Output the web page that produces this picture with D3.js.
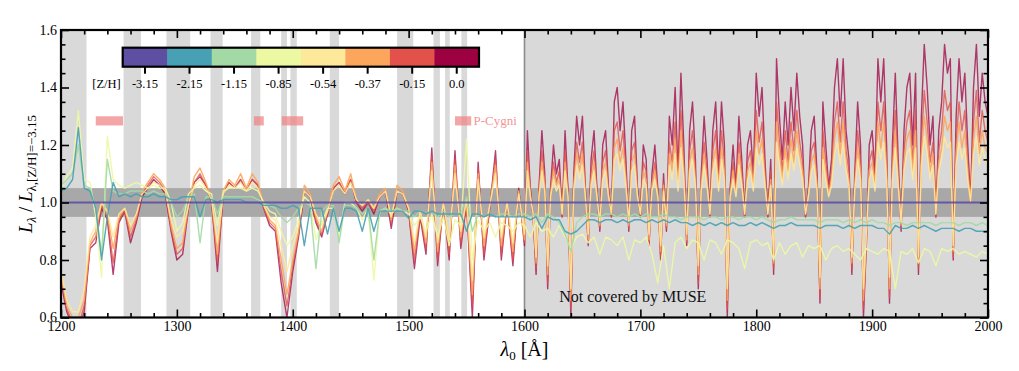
<!DOCTYPE html>
<html>
<head>
<meta charset="utf-8">
<script src="https://cdn.jsdelivr.net/npm/d3@7"></script>
<style>
  body{margin:0;background:#fff;}
  text{font-family:"Liberation Serif","DejaVu Serif",serif;}
</style>
</head>
<body>
<div id="chart"></div>
<script>
'use strict';

// wavelength sampling (Angstrom): 5 A everywhere for the metal poor models,
// 2.5 A beyond 1600 A for the metal rich ones (denser line forest there)
const lambdaPoor = d3.range(1200, 2001, 5);
const lambdaRich = d3.range(1200, 1600, 5).concat(d3.range(1600, 2000.01, 2.5));

// [Z/H] categories and their colours (Spectral, metal poor -> rich)
const zhLabels = ["-3.15","-2.15","-1.15","-0.85","-0.54","-0.37","-0.15","0.0"];
const zhColors = ["#5e4fa2","#47a0b3","#a2d9a4","#edf8a3","#fee899","#fca55d","#e2514a","#9e0142"];

// ratio spectra L / L([Z/H]=-3.15)
const zh000 = [
  0.72,0.62,0.57,0.55,0.62,0.84,0.86,0.98,0.94,0.75,
  0.93,0.97,0.86,0.93,1.02,1.05,1.08,1.06,1.03,0.90,
  0.80,0.82,0.98,1.07,1.09,1.06,1.00,0.76,1.03,1.07,
  1.05,1.08,1.04,1.08,1.06,0.98,0.92,0.90,0.72,0.60,
  0.76,0.88,1.04,1.02,0.93,0.88,0.96,1.05,1.07,1.03,
  1.08,1.00,0.97,1.00,0.96,1.02,1.04,0.91,1.04,1.03,
  0.97,0.77,0.95,0.82,1.19,0.78,1.00,0.80,1.18,0.84,
  1.00,0.60,1.14,0.80,0.98,1.18,0.80,1.00,0.78,1.05,
  0.85,1.25,1.05,0.95,0.75,1.05,1.25,1.10,0.70,1.05,1.20,1.10,1.15,0.95,1.25,1.05,0.60,1.10,1.30,1.20,
  1.30,1.05,0.85,1.15,1.25,1.05,0.90,1.20,1.25,1.05,0.95,1.35,1.40,1.25,1.35,1.15,0.90,1.25,1.30,1.05,
  0.95,1.20,1.15,0.85,1.10,1.20,1.05,0.80,1.10,0.90,1.30,1.20,1.40,1.10,1.45,1.20,0.85,1.25,1.35,1.15,
  0.70,1.10,1.30,1.15,0.95,1.25,1.35,1.10,1.35,1.20,0.60,1.05,1.20,1.05,1.30,1.15,0.95,1.20,1.25,1.10,
  1.45,1.30,1.40,1.15,0.95,1.15,0.75,1.50,1.30,1.15,1.35,1.20,1.40,1.25,1.45,1.30,1.20,0.95,1.05,1.25,
  1.30,1.10,0.65,1.35,1.20,1.05,1.15,1.40,1.50,1.30,1.50,1.25,1.15,0.75,1.10,1.35,1.20,0.60,0.85,1.20,
  1.25,1.10,1.50,1.35,1.50,1.20,0.65,1.20,1.45,1.15,0.90,1.25,1.40,1.45,1.20,1.45,0.75,1.30,1.55,1.40,
  1.20,1.30,0.95,1.25,1.35,1.55,1.45,1.50,0.80,1.30,1.50,1.35,1.45,1.20,1.00,1.40,1.55,1.30,1.45,1.35,
  1.30
];
const zh015 = [
  0.74,0.63,0.58,0.57,0.64,0.85,0.88,0.99,0.95,0.79,
  0.94,0.97,0.88,0.94,1.03,1.06,1.09,1.07,1.04,0.91,
  0.82,0.84,0.98,1.07,1.10,1.06,1.00,0.79,1.03,1.07,
  1.05,1.08,1.04,1.08,1.06,0.98,0.93,0.91,0.76,0.64,
  0.78,0.89,1.04,1.02,0.94,0.89,0.96,1.05,1.07,1.03,
  1.08,1.00,0.98,1.00,0.97,1.02,1.04,0.93,1.04,1.03,
  0.97,0.80,0.96,0.84,1.16,0.80,1.00,0.82,1.15,0.86,
  1.00,0.64,1.12,0.82,0.98,1.15,0.82,1.00,0.80,1.04,
  0.86,1.18,1.04,0.95,0.77,1.04,1.18,1.07,0.72,1.04,1.14,1.07,1.11,0.95,1.18,1.04,0.63,1.07,1.21,1.14,
  1.21,1.04,0.86,1.11,1.18,1.04,0.91,1.14,1.18,1.04,0.95,1.25,1.28,1.18,1.25,1.11,0.91,1.18,1.21,1.04,
  0.95,1.14,1.11,0.86,1.07,1.14,1.04,0.81,1.07,0.91,1.21,1.14,1.28,1.07,1.32,1.14,0.86,1.18,1.25,1.11,
  0.72,1.07,1.21,1.11,0.95,1.18,1.25,1.07,1.25,1.14,0.63,1.04,1.14,1.04,1.21,1.11,0.95,1.14,1.18,1.07,
  1.32,1.21,1.28,1.11,0.95,1.11,0.77,1.35,1.21,1.11,1.25,1.14,1.28,1.18,1.32,1.21,1.14,0.95,1.04,1.18,
  1.21,1.07,0.67,1.25,1.14,1.04,1.11,1.28,1.35,1.21,1.35,1.18,1.11,0.77,1.07,1.25,1.14,0.63,0.86,1.14,
  1.18,1.07,1.35,1.25,1.35,1.14,0.67,1.14,1.32,1.11,0.91,1.18,1.28,1.32,1.14,1.32,0.77,1.21,1.39,1.28,
  1.14,1.21,0.95,1.18,1.25,1.39,1.32,1.35,0.81,1.21,1.35,1.25,1.32,1.14,1.00,1.28,1.39,1.21,1.32,1.25,
  1.21
];
const zh037 = [
  0.75,0.64,0.60,0.60,0.66,0.86,0.90,1.00,0.96,0.84,
  0.95,0.98,0.90,0.95,1.04,1.07,1.10,1.08,1.05,0.92,
  0.84,0.86,0.99,1.09,1.12,1.07,1.01,0.82,1.04,1.08,
  1.06,1.10,1.05,1.10,1.07,0.99,0.94,0.92,0.80,0.68,
  0.80,0.90,1.06,1.03,0.95,0.90,0.97,1.06,1.09,1.04,
  1.10,1.01,0.99,1.01,0.98,1.03,1.05,0.94,1.06,1.04,
  0.98,0.83,0.97,0.86,1.14,0.83,1.00,0.85,1.13,0.88,
  1.01,0.68,1.10,0.85,0.99,1.13,0.85,1.00,0.83,1.04,
  0.87,1.14,1.03,0.96,0.79,1.03,1.14,1.06,0.75,1.03,1.11,1.06,1.08,0.96,1.14,1.03,0.66,1.06,1.17,1.11,
  1.17,1.03,0.87,1.08,1.14,1.03,0.92,1.11,1.14,1.03,0.96,1.19,1.22,1.14,1.19,1.08,0.92,1.14,1.17,1.03,
  0.96,1.11,1.08,0.87,1.06,1.11,1.03,0.83,1.06,0.92,1.17,1.11,1.22,1.06,1.25,1.11,0.87,1.14,1.19,1.08,
  0.75,1.06,1.17,1.08,0.96,1.14,1.19,1.06,1.19,1.11,0.66,1.03,1.11,1.03,1.17,1.08,0.96,1.11,1.14,1.06,
  1.25,1.17,1.22,1.08,0.96,1.08,0.79,1.28,1.17,1.08,1.19,1.11,1.22,1.14,1.25,1.17,1.11,0.96,1.03,1.14,
  1.17,1.06,0.70,1.19,1.11,1.03,1.08,1.22,1.28,1.17,1.28,1.14,1.08,0.79,1.06,1.19,1.11,0.66,0.87,1.11,
  1.14,1.06,1.28,1.19,1.28,1.11,0.70,1.11,1.25,1.08,0.92,1.14,1.22,1.25,1.11,1.25,0.79,1.17,1.30,1.22,
  1.11,1.17,0.96,1.14,1.19,1.30,1.25,1.28,0.83,1.17,1.28,1.19,1.25,1.11,1.00,1.22,1.30,1.17,1.25,1.19,
  1.17
];
const zh054 = [
  0.76,0.66,0.62,0.62,0.70,0.88,0.92,1.00,0.97,0.88,
  0.96,0.98,0.92,0.96,1.03,1.05,1.07,1.06,1.04,0.94,
  0.88,0.90,0.99,1.06,1.08,1.05,1.01,0.86,1.03,1.06,
  1.05,1.07,1.04,1.07,1.05,0.99,0.95,0.94,0.85,0.76,
  0.85,0.92,1.04,1.02,0.96,0.92,0.97,1.04,1.06,1.03,
  1.07,1.01,0.99,1.01,0.98,1.02,1.04,0.95,1.04,1.03,
  0.98,0.86,0.97,0.88,1.11,0.86,1.00,0.87,1.10,0.90,
  1.01,0.73,1.08,0.88,0.99,1.10,0.88,1.00,0.86,1.03,
  0.89,1.11,1.02,0.96,0.81,1.02,1.11,1.04,0.78,1.02,1.08,1.04,1.06,0.96,1.11,1.02,0.70,1.04,1.13,1.08,
  1.13,1.02,0.89,1.06,1.11,1.02,0.93,1.08,1.11,1.02,0.96,1.15,1.17,1.11,1.15,1.06,0.93,1.11,1.13,1.02,
  0.96,1.08,1.06,0.89,1.04,1.08,1.02,0.85,1.04,0.93,1.13,1.08,1.17,1.04,1.19,1.08,0.89,1.11,1.15,1.06,
  0.78,1.04,1.13,1.06,0.96,1.11,1.15,1.04,1.15,1.08,0.70,1.02,1.08,1.02,1.13,1.06,0.96,1.08,1.11,1.04,
  1.19,1.13,1.17,1.06,0.96,1.06,0.81,1.21,1.13,1.06,1.15,1.08,1.17,1.11,1.19,1.13,1.08,0.96,1.02,1.11,
  1.13,1.04,0.74,1.15,1.08,1.02,1.06,1.17,1.21,1.13,1.21,1.11,1.06,0.81,1.04,1.15,1.08,0.70,0.89,1.08,
  1.11,1.04,1.21,1.15,1.21,1.08,0.74,1.08,1.19,1.06,0.93,1.11,1.17,1.19,1.08,1.19,0.81,1.13,1.23,1.17,
  1.08,1.13,0.96,1.11,1.15,1.23,1.19,1.21,0.85,1.13,1.21,1.15,1.19,1.08,1.00,1.17,1.23,1.13,1.19,1.15,
  1.13
];
const zh085 = [
  1.05,1.09,1.12,1.32,1.08,1.07,0.95,0.74,1.23,1.08,
  1.06,1.05,1.06,1.07,1.06,1.05,1.06,1.05,1.05,1.00,
  0.90,0.93,1.03,1.05,1.06,1.04,1.03,0.92,1.04,1.05,
  1.05,1.05,1.04,1.05,1.04,1.00,0.97,0.96,0.90,0.85,
  0.88,0.94,1.02,1.00,0.87,0.93,0.98,0.98,0.88,1.00,
  1.00,0.98,0.94,0.98,0.73,0.97,0.98,0.96,0.98,0.97,
  0.96,0.92,0.95,0.90,0.96,0.88,0.95,0.85,0.94,0.92,
  1.22,0.80,0.94,0.90,0.93,0.88,0.93,0.92,0.90,0.93,
  0.92,0.88,0.93,0.90,0.91,0.88,0.92,0.88,0.84,0.88,
  0.89,0.86,0.88,0.82,0.88,0.87,0.85,0.88,0.80,0.87,
  0.86,0.88,0.82,0.72,0.85,0.70,0.86,0.88,0.84,0.87,
  0.86,0.80,0.87,0.86,0.82,0.87,0.86,0.84,0.77,0.86,
  0.87,0.85,0.86,0.80,0.86,0.82,0.85,0.86,0.81,0.85,
  0.84,0.85,0.80,0.84,0.85,0.83,0.84,0.82,0.80,0.84,
  0.83,0.82,0.84,0.83,0.70,0.83,0.82,0.84,0.79,0.84,
  0.83,0.78,0.84,0.83,0.84,0.82,0.83,0.82,0.81,0.83,
  0.82
];
const zh115 = [
  1.06,1.08,1.10,1.20,1.06,1.05,0.98,0.82,1.15,1.04,
  1.03,1.03,1.04,1.04,1.04,1.03,1.04,1.03,1.03,1.00,
  0.95,0.97,1.02,1.03,0.86,1.02,1.02,0.96,1.02,1.02,
  1.02,1.02,1.02,1.02,1.01,1.00,0.99,0.98,0.95,0.93,
  0.95,0.98,1.00,0.99,0.77,0.97,0.99,0.99,0.86,0.99,
  0.99,0.98,0.96,0.98,0.80,0.97,0.98,0.97,0.98,0.97,
  0.97,0.95,0.97,0.96,0.97,0.95,0.97,0.95,0.96,0.96,
  1.02,0.90,0.96,0.95,0.96,0.95,0.96,0.96,0.95,0.96,
  0.96,0.95,0.96,0.93,0.96,0.95,0.93,0.89,0.83,0.93,
  0.95,0.96,0.96,0.95,0.96,0.96,0.95,0.96,0.95,0.96,
  0.95,0.96,0.95,0.95,0.96,0.95,0.95,0.94,0.95,0.95,
  0.95,0.94,0.95,0.95,0.94,0.95,0.95,0.94,0.95,0.95,
  0.94,0.95,0.94,0.93,0.94,0.94,0.95,0.94,0.94,0.94,
  0.94,0.93,0.94,0.94,0.94,0.93,0.94,0.93,0.94,0.93,
  0.94,0.93,0.93,0.92,0.93,0.93,0.92,0.93,0.93,0.93,
  0.93,0.92,0.93,0.93,0.93,0.92,0.93,0.93,0.92,0.93,
  0.92
];
const zh215 = [
  1.04,1.05,1.08,1.26,1.05,1.04,0.98,0.80,0.95,1.07,
  1.02,1.03,1.02,1.03,1.02,1.02,1.03,1.02,1.02,1.01,
  1.01,1.02,1.02,1.02,0.95,1.01,1.01,1.00,1.01,1.01,
  1.01,1.01,1.00,1.00,1.00,0.99,0.99,0.99,0.98,0.98,
  0.99,0.98,0.85,0.98,0.98,0.98,0.89,0.98,0.90,0.98,
  0.98,0.97,0.90,0.98,0.90,0.97,0.97,0.97,0.97,0.97,
  0.945,0.97,0.97,0.96,0.97,0.96,0.96,0.96,0.96,0.96,
  0.90,0.96,0.96,0.95,0.96,0.95,0.95,0.95,0.95,0.95,
  0.95,0.94,0.95,0.91,0.95,0.94,0.94,0.90,0.89,0.90,
  0.92,0.94,0.94,0.93,0.94,0.94,0.93,0.94,0.93,0.94,
  0.94,0.93,0.94,0.93,0.94,0.93,0.94,0.93,0.93,0.92,
  0.93,0.92,0.93,0.92,0.93,0.92,0.93,0.92,0.92,0.93,
  0.92,0.93,0.92,0.91,0.92,0.92,0.93,0.92,0.92,0.92,
  0.92,0.91,0.92,0.92,0.92,0.91,0.92,0.91,0.92,0.92,
  0.92,0.91,0.91,0.89,0.92,0.91,0.91,0.92,0.91,0.92,
  0.91,0.90,0.91,0.91,0.91,0.90,0.91,0.91,0.90,0.90,
  0.90
];
// reference model against itself
const lambdaRef = [1200, 2000];
const zh315 = [1.0, 1.0];

// masked wavelength windows (light grey) and P-Cygni features
const maskBands = [[1200,1222],[1254,1269],[1291,1311.5],[1329,1339.5],[1364,1372],
  [1390,1395],[1398,1403.5],[1432,1440],[1490,1504],[1521.5,1527],[1531.5,1535.5],[1545.5,1550.5]];
const museLimit = 1600;
const pCygniBands = [[1230,1253.5],[1366.5,1375],[1390.5,1409],[1540,1554]];
const pCygniLevel = [1.268, 1.300];
const toleranceBand = [0.95, 1.05];

const xTicks = [1200,1300,1400,1500,1600,1700,1800,1900,2000];
const yTicks = [0.6,0.8,1.0,1.2,1.4,1.6];


class SpectraChart{
  constructor(p){
    this._width = p.width;
    this._height = p.height;
    this._x = d3.scaleLinear().domain([1200, 2000]).range([p.margin.left, p.width - p.margin.right]);
    this._y = d3.scaleLinear().domain([0.6, 1.6]).range([p.height - p.margin.bottom, p.margin.top]);
  }

  init(parent){
    this._svg = d3.select(parent).append("svg")
      .attr("width", this._width)
      .attr("height", this._height);

    let x = this._x, y = this._y;
    let x0 = x.range()[0], x1 = x.range()[1], y0 = y.range()[1], y1 = y.range()[0];

    this._svg.append("clipPath").attr("id", "plotClip")
      .append("rect").attr("x", x0).attr("y", y0).attr("width", x1 - x0).attr("height", y1 - y0);

    let plot = this._svg.append("g").attr("clip-path", "url(#plotClip)");

    //masked windows + region not covered by MUSE
    plot.selectAll("rect.mask").data(maskBands.concat([[museLimit, 2000]])).enter()
      .append("rect").attr("class", "mask")
      .attr("x", d => x(d[0])).attr("width", d => x(d[1]) - x(d[0]))
      .attr("y", y0).attr("height", y1 - y0)
      .attr("fill", "#d9d9d9");

    plot.append("line")
      .attr("x1", x(museLimit)).attr("x2", x(museLimit)).attr("y1", y0).attr("y2", y1)
      .attr("stroke", "#8c8c8c").attr("stroke-width", 1.6);

    plot.append("rect")
      .attr("x", x0).attr("width", x1 - x0)
      .attr("y", y(toleranceBand[1])).attr("height", y(toleranceBand[0]) - y(toleranceBand[1]))
      .attr("fill", "#a8a8a8");

    plot.selectAll("rect.pcyg").data(pCygniBands).enter()
      .append("rect").attr("class", "pcyg")
      .attr("x", d => x(d[0])).attr("width", d => x(d[1]) - x(d[0]))
      .attr("y", y(pCygniLevel[1])).attr("height", y(pCygniLevel[0]) - y(pCygniLevel[1]))
      .attr("fill", "#f08080").attr("fill-opacity", 0.7);

    this._svg.append("text")
      .attr("x", x(1556)).attr("y", y((pCygniLevel[0] + pCygniLevel[1]) / 2) + 4.5)
      .attr("font-size", 13).attr("fill", "#f08080").attr("fill-opacity", 0.85)
      .text("P-Cygni");

    this._svg.append("text")
      .attr("x", x(1630)).attr("y", 302)
      .attr("font-size", 16).attr("fill", "#111")
      .text("Not covered by MUSE");

    //spectra, metal rich drawn first
    let series = [
      {lam: lambdaRich, v: zh000, c: zhColors[7], o: 0.75},
      {lam: lambdaRich, v: zh015, c: zhColors[6], o: 0.8},
      {lam: lambdaRich, v: zh037, c: zhColors[5], o: 0.9},
      {lam: lambdaRich, v: zh054, c: zhColors[4], o: 0.9},
      {lam: lambdaPoor, v: zh085, c: zhColors[3], o: 0.9},
      {lam: lambdaPoor, v: zh115, c: zhColors[2], o: 0.9},
      {lam: lambdaPoor, v: zh215, c: zhColors[1], o: 0.9},
      {lam: lambdaRef, v: zh315, c: zhColors[0], o: 0.9, w: 2.2}
    ];
    series.forEach(s => {
      let line = d3.line().x((d, i) => x(s.lam[i])).y(d => y(d));
      plot.append("path").datum(s.v)
        .attr("d", line)
        .attr("fill", "none")
        .attr("stroke", s.c)
        .attr("stroke-opacity", s.o)
        .attr("stroke-width", s.w || 1.4)
        .attr("stroke-linejoin", "round");
    });

    this.initAxes(x0, x1, y0, y1);
    this.initColorbar();
    this.initLabels();
  }

  initAxes(x0, x1, y0, y1){
    let x = this._x, y = this._y;
    let xMinor = d3.range(1200, 2001, 20).filter(v => v % 100 != 0);
    let yMinor = d3.range(0.6, 1.601, 0.05).filter(v => Math.abs(v * 5 - Math.round(v * 5)) > 1e-6);

    let addAxis = (axis, transform, labels) => {
      let g = this._svg.append("g").attr("transform", transform).call(axis);
      g.select(".domain").remove();
      g.selectAll("line").attr("stroke", "#000").attr("stroke-width", 1.6);
      if(!labels) g.selectAll("text").remove();
      else g.selectAll("text").attr("font-size", 14).attr("fill", "#000")
        .style("font-family", "'Liberation Serif', serif");
      return g;
    };

    addAxis(d3.axisBottom(x).tickValues(xTicks).tickSize(-8).tickPadding(4).tickFormat(d3.format("d")), `translate(0,${y1})`, true);
    addAxis(d3.axisBottom(x).tickValues(xMinor).tickSize(-4.5), `translate(0,${y1})`, false);
    addAxis(d3.axisTop(x).tickValues(xTicks).tickSize(-8), `translate(0,${y0})`, false);
    addAxis(d3.axisTop(x).tickValues(xMinor).tickSize(-4.5), `translate(0,${y0})`, false);
    addAxis(d3.axisLeft(y).tickValues(yTicks).tickSize(-8).tickPadding(4).tickFormat(d3.format(".1f")), `translate(${x0},0)`, true);
    addAxis(d3.axisLeft(y).tickValues(yMinor).tickSize(-4.5), `translate(${x0},0)`, false);
    addAxis(d3.axisRight(y).tickValues(yTicks).tickSize(-8), `translate(${x1},0)`, false);
    addAxis(d3.axisRight(y).tickValues(yMinor).tickSize(-4.5), `translate(${x1},0)`, false);

    this._svg.append("rect")
      .attr("x", x0).attr("y", y0).attr("width", x1 - x0).attr("height", y1 - y0)
      .attr("fill", "none").attr("stroke", "#000").attr("stroke-width", 2.2);
  }

  initColorbar(){
    let cb = {x0: 122.7, x1: 479, y: 47.7, h: 19};
    let band = d3.scaleBand().domain(zhLabels).range([cb.x0, cb.x1]);
    let g = this._svg.append("g");

    g.selectAll("rect.seg").data(zhLabels).enter()
      .append("rect").attr("class", "seg")
      .attr("x", d => band(d)).attr("width", band.bandwidth() + 0.5)
      .attr("y", cb.y).attr("height", cb.h)
      .attr("fill", (d, i) => zhColors[i]);

    g.append("rect")
      .attr("x", cb.x0).attr("y", cb.y).attr("width", cb.x1 - cb.x0).attr("height", cb.h)
      .attr("fill", "none").attr("stroke", "#000").attr("stroke-width", 2.2);

    let axis = g.append("g").attr("transform", `translate(0,${cb.y + cb.h})`)
      .call(d3.axisBottom(band).tickSize(7).tickPadding(5));
    axis.select(".domain").remove();
    axis.selectAll("line").attr("stroke", "#000").attr("stroke-width", 2);
    axis.selectAll("text").attr("font-size", 12.5).attr("fill", "#000")
      .style("font-family", "'Liberation Serif', serif");

    g.append("text")
      .attr("x", cb.x0 - 2).attr("y", 88)
      .attr("text-anchor", "end").attr("font-size", 12.5)
      .text("[Z/H]");
  }

  initLabels(){
    let xl = this._svg.append("text")
      .attr("x", (this._x.range()[0] + this._x.range()[1]) / 2).attr("y", 356)
      .attr("text-anchor", "middle").attr("font-size", 20);
    xl.append("tspan").attr("font-style", "italic").text("λ");
    xl.append("tspan").attr("font-size", 13).attr("dy", 4).text("0");
    xl.append("tspan").attr("dy", -4).text(" [Å]");

    let yl = this._svg.append("text")
      .attr("transform", "translate(32,174) rotate(-90)")
      .attr("text-anchor", "middle").attr("font-size", 19);
    yl.append("tspan").attr("font-style", "italic").text("L");
    yl.append("tspan").attr("font-size", 13).attr("font-style", "italic").attr("dy", 4).text("λ");
    yl.append("tspan").attr("dy", -4).text(" / ");
    yl.append("tspan").attr("font-style", "italic").text("L");
    yl.append("tspan").attr("font-size", 13).attr("dy", 4).text("λ,[Z/H]=−3.15");
  }
}

let chart = new SpectraChart({
  width: 1019,
  height: 371,
  margin: {top: 30, right: 31, bottom: 53.5, left: 61}
});
chart.init("#chart");
</script>
</body>
</html>
